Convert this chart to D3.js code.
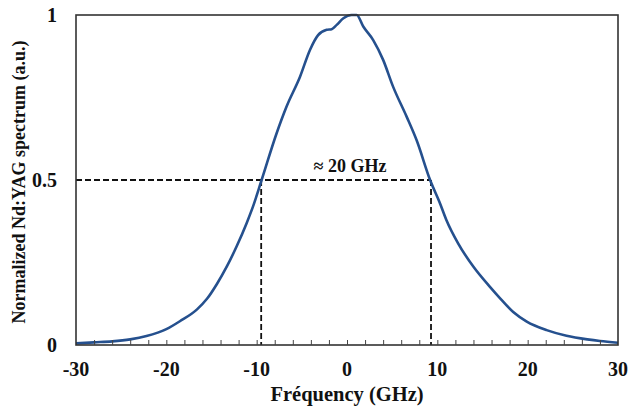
<!DOCTYPE html>
<html>
<head>
<meta charset="utf-8">
<script src="https://cdn.jsdelivr.net/npm/d3@7"></script>
<style>
  body { margin: 0; background: #fff; }
  svg text { font-family: "Liberation Serif", "Times New Roman", serif; font-weight: bold; fill: #111; }
</style>
</head>
<body>
<div id="chart"></div>
<script>
// Spectrum
const freq = [-30, -28, -26, -24, -22.2, -20, -18.5, -16.6, -15.5, -14.4, -13.3, -12.2, -11.1, -10.4, -9.45,
  -7.8, -6.7, -5.2, -4.1, -3.2, -2.25, -1.7, -1.14, -0.4, 0.5, 1.07, 1.8, 2.9, 4.0, 5.1, 6.6, 7.7, 9.2,
  10.3, 11.0, 12.3, 14.0, 15.8, 16.9, 18.4, 19.9, 22.1, 24.3, 26.6, 28, 30];
const spectrum = [0.005, 0.008, 0.011, 0.017, 0.027, 0.048, 0.072, 0.108, 0.14, 0.185, 0.238, 0.30, 0.37, 0.42, 0.5,
  0.641, 0.722, 0.813, 0.894, 0.939, 0.955, 0.957, 0.97, 0.99, 1.0, 1.0, 0.965, 0.924, 0.864, 0.783, 0.692, 0.621, 0.5,
  0.429, 0.379, 0.308, 0.237, 0.177, 0.143, 0.1, 0.071, 0.045, 0.028, 0.017, 0.012, 0.007];

const xTicks = [-30, -20, -10, 0, 10, 20, 30];
const xMinorTicks = d3.range(-28, 30, 2);
const yTicks = [0, 0.5, 1];
const yTickLabels = ['0', '0.5', '1'];

// FWHM markers
const halfMax = 0.5;
const fwhmLeft = -9.5;
const fwhmRight = 9.3;
const fwhmLabel = '\u2248 20 GHz';

const width = 630, height = 408;
const margin = { top: 15, right: 12, bottom: 63, left: 76 };

const svg = d3.select('#chart').append('svg')
  .attr('width', width)
  .attr('height', height);

const x = d3.scaleLinear().domain([-30, 30]).range([margin.left, width - margin.right]);
const y = d3.scaleLinear().domain([0, 1]).range([height - margin.bottom, margin.top]);

// dashed half-maximum guides
const guides = svg.append('g')
  .attr('fill', 'none')
  .attr('stroke', '#111')
  .attr('stroke-width', 1.8)
  .attr('stroke-dasharray', '6,3');
guides.append('line')
  .attr('x1', x(-30)).attr('x2', x(fwhmRight))
  .attr('y1', y(halfMax)).attr('y2', y(halfMax));
[fwhmLeft, fwhmRight].forEach(f => {
  guides.append('line')
    .attr('x1', x(f)).attr('x2', x(f))
    .attr('y1', y(halfMax)).attr('y2', y(0));
});

// curve
const line = d3.line()
  .x((d, i) => x(freq[i]))
  .y(d => y(d))
  .curve(d3.curveMonotoneX);
svg.append('path')
  .datum(spectrum)
  .attr('fill', 'none')
  .attr('stroke', '#25508e')
  .attr('stroke-width', 2.6)
  .attr('d', line);

// frame
svg.append('rect')
  .attr('x', x(-30)).attr('y', y(1))
  .attr('width', x(30) - x(-30))
  .attr('height', y(0) - y(1))
  .attr('fill', 'none')
  .attr('stroke', '#333')
  .attr('stroke-width', 1.6);

// bottom axis, ticks drawn inward
const xAxis = svg.append('g')
  .attr('transform', `translate(0,${y(0)})`)
  .call(d3.axisBottom(x).tickValues(xMinorTicks).tickSize(-5).tickFormat(''));
xAxis.select('.domain').remove();
xAxis.selectAll('line').attr('stroke', '#444').attr('stroke-width', 1);

svg.append('g').selectAll('text')
  .data(xTicks)
  .join('text')
  .attr('x', d => x(d))
  .attr('y', y(0) + 31)
  .attr('text-anchor', 'middle')
  .attr('font-size', 20)
  .text(d => d);

svg.append('g').selectAll('text')
  .data(yTicks)
  .join('text')
  .attr('x', margin.left - 19)
  .attr('y', d => y(d) + 7)
  .attr('text-anchor', 'end')
  .attr('font-size', 20)
  .text((d, i) => yTickLabels[i]);

// annotation
svg.append('text')
  .attr('x', 350)
  .attr('y', 172)
  .attr('text-anchor', 'middle')
  .attr('font-size', 18)
  .text(fwhmLabel);

// axis titles
svg.append('text')
  .attr('x', (x(-30) + x(30)) / 2)
  .attr('y', 401)
  .attr('text-anchor', 'middle')
  .attr('font-size', 20.5)
  .text('Fréquency (GHz)');

svg.append('text')
  .attr('transform', `translate(25,${(y(0) + y(1)) / 2 + 2}) rotate(-90)`)
  .attr('text-anchor', 'middle')
  .attr('font-size', 18)
  .text('Normalized Nd:YAG spectrum (a.u.)');
</script>
</body>
</html>
